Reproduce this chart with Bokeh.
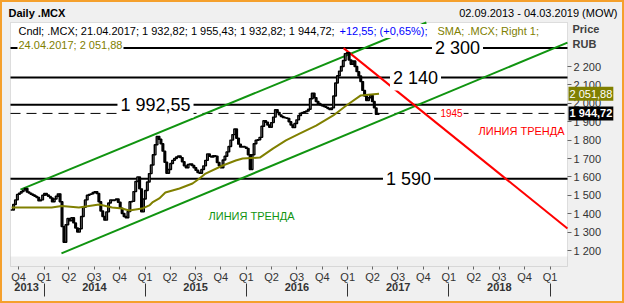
import pandas as pd
from bokeh.plotting import figure
from bokeh.models import (Range1d, LinearAxis, FixedTicker, Label,
                          ColumnDataSource, BoxAnnotation)
from bokeh.embed import file_html
from bokeh.resources import INLINE

# ---------------- data ----------------
first_week = "2013-09-06"
closes = [
    1420, 1450, 1475, 1505, 1512, 1520, 1528, 1537, 1518, 1512,
    1506, 1500, 1494, 1488, 1470, 1475, 1500, 1510, 1502, 1494,
    1485, 1465, 1480, 1495, 1508, 1465, 1330, 1245, 1340, 1374,
    1362, 1378, 1350, 1322, 1300, 1318, 1385, 1435, 1475, 1500,
    1505, 1508, 1515, 1520, 1510, 1465, 1415, 1385, 1365, 1410,
    1458, 1475, 1472, 1475, 1480, 1462, 1430, 1401, 1385, 1378,
    1412, 1465, 1467, 1520, 1575, 1600, 1535, 1410, 1480, 1526,
    1572, 1618, 1665, 1720, 1775, 1820, 1805, 1780, 1740, 1680,
    1620, 1640, 1673, 1690, 1700, 1708, 1714, 1705, 1682, 1660,
    1650, 1667, 1670, 1662, 1650, 1636, 1624, 1620, 1640, 1660,
    1690, 1725, 1712, 1708, 1715, 1712, 1678, 1660, 1650, 1692,
    1712, 1736, 1765, 1800, 1830, 1860, 1810, 1778, 1762, 1765,
    1762, 1755, 1720, 1640, 1720, 1780, 1799, 1802, 1815, 1875,
    1905, 1897, 1882, 1870, 1895, 1925, 1965, 1950, 1937, 1928,
    1923, 1921, 1918, 1900, 1882, 1868, 1890, 1910, 1934, 1946,
    1950, 1954, 1958, 1968, 2025, 2055, 2030, 2010, 1999, 1992,
    1987, 1983, 1978, 1972, 1966, 1975, 2040, 2110, 2150, 2175,
    2200, 2233, 2270, 2275, 2235, 2212, 2230, 2200, 2172, 2148,
    2118, 2070, 2040, 2015, 2030, 2042, 2010, 1975, 1940, 1944.72,
]

sma_dates = ["2013-09-06", "2013-11-17", "2014-01-29", "2014-03-06", "2014-05-07",
             "2014-07-19", "2014-09-04", "2014-10-10", "2014-11-04", "2014-12-21",
             "2015-01-16", "2015-01-27", "2015-02-21", "2015-03-15", "2015-05-05",
             "2015-06-21", "2015-07-16", "2015-08-07", "2015-10-08", "2015-11-24",
             "2015-12-19", "2016-02-19", "2016-04-06", "2016-05-23", "2016-07-13",
             "2016-09-09", "2016-11-10", "2016-12-27", "2017-02-16", "2017-04-24"]
sma_vals = [1434, 1434, 1434, 1442, 1434, 1450, 1434, 1428, 1417, 1428,
            1445, 1461, 1483, 1515, 1537, 1564, 1591, 1618, 1662, 1689,
            1700, 1705, 1754, 1798, 1836, 1879, 1934, 1988, 2042, 2051.88]

upper_dates = ["2013-10-08", "2017-10-12"]
upper_vals = [1531, 2439]
lower_dates = ["2014-03-05", "2019-03-05"]
lower_vals = [1184, 2330]
red_dates = ["2016-12-17", "2019-03-05"]
red_vals = [2300, 1320]

levels = [2300, 2140, 1992.55, 1590]
level_texts = ["2 300", "2 140", "1 992,55", "1 590"]
dash_level = 1945
dash_text = "1945"

y_ticks = [1200, 1300, 1400, 1500, 1600, 1700, 1800, 1900, 2000, 2100, 2200]
y_tick_labels = ["1 200", "1 300", "1 400", "1 500", "1 600", "1 700",
                 "1 800", "1 900", "2 000", "2 100", "2 200"]

quarter_dates = ["2013-10-01",
                 "2014-01-01", "2014-04-01", "2014-07-01", "2014-10-01",
                 "2015-01-01", "2015-04-01", "2015-07-01", "2015-10-01",
                 "2016-01-01", "2016-04-01", "2016-07-01", "2016-10-01",
                 "2017-01-01", "2017-04-01", "2017-07-01", "2017-10-01",
                 "2018-01-01", "2018-04-01", "2018-07-01", "2018-10-01",
                 "2019-01-01"]
quarter_labels = ["Q4",
                  "Q1", "Q2", "Q3", "Q4", "Q1", "Q2", "Q3", "Q4",
                  "Q1", "Q2", "Q3", "Q4", "Q1", "Q2", "Q3", "Q4",
                  "Q1", "Q2", "Q3", "Q4", "Q1"]
year_label_dates = ["2013-10-30", "2014-07-02", "2015-07-02", "2016-07-02",
                    "2017-07-02", "2018-07-02"]
year_labels = ["2013", "2014", "2015", "2016", "2017", "2018"]
year_starts = ["2014-01-01", "2015-01-01", "2016-01-01", "2017-01-01",
               "2018-01-01", "2019-01-01"]

legend_black = "Cndl; .MCX; 21.04.2017; 1 932,82; 1 955,43; 1 932,82; 1 944,72;"
legend_blue = "+12,55; (+0,65%);"
legend_olive = "SMA; .MCX; Right 1;"
legend_olive2 = "24.04.2017; 2 051,88"


# ---------------- helpers ----------------
def ms(d):
    return pd.Timestamp(d).value / 1e6


W, H = 624, 303
FL, FR, FT, FB = 10, 567, 22, 266       # plot box (pixels)
T0, T1 = ms("2014-01-01"), ms("2019-01-01")
P0, P1 = 43.5, 549.5


def X(px):
    return T0 + (px - P0) * (T1 - T0) / (P1 - P0)


def Yv(py):
    return 1200 + (250 - py) / 0.184


FONT = "Liberation Sans"
GREEN = "#109410"

p = figure(width=W, height=H, x_range=Range1d(X(0), X(W)),
           y_range=Range1d(Yv(H), Yv(0)),
           x_axis_type=None, y_axis_type=None,
           toolbar_location=None, output_backend="svg",
           min_border_left=0, min_border_right=0,
           min_border_top=0, min_border_bottom=0)
p.background_fill_color = "#f0f0f0"
p.border_fill_color = "#f0f0f0"
p.outline_line_color = "#f5a02c"
p.outline_line_width = 3

# white plot area, grey strip at its bottom, grey box outline
p.add_layout(BoxAnnotation(left=X(FL), right=X(FR), top=Yv(FT), bottom=Yv(256),
                           fill_color="white", fill_alpha=1, line_alpha=0,
                           level="underlay"))
p.add_layout(BoxAnnotation(left=X(FL), right=X(FR), top=Yv(FT), bottom=Yv(FB),
                           fill_alpha=0, line_color="#a0a0a0", line_width=1,
                           level="underlay"))

# ---------------- axes (fixed in place) ----------------
qax = LinearAxis(fixed_location=Yv(FB),
                 ticker=FixedTicker(ticks=[ms(d) for d in quarter_dates]),
                 major_label_overrides={ms(d): t for d, t in zip(quarter_dates, quarter_labels)},
                 axis_line_color=None, major_tick_in=0, major_tick_out=3,
                 major_tick_line_color="#666666", major_label_standoff=1,
                 major_label_text_font=FONT, major_label_text_font_size="11px",
                 major_label_text_color="#333333")
p.add_layout(qax, "below")

# year separators
sep_ax = LinearAxis(fixed_location=Yv(283),
                    ticker=FixedTicker(ticks=[ms(d) for d in year_starts]),
                    major_label_overrides={ms(d): "" for d in year_starts},
                    axis_line_color=None, major_tick_in=0, major_tick_out=13,
                    major_tick_line_color="#333333", major_tick_line_width=1,
                    major_label_text_font_size="1px")
p.add_layout(sep_ax, "below")

# year labels
yax = LinearAxis(fixed_location=Yv(282.5),
                 ticker=FixedTicker(ticks=[ms(d) for d in year_label_dates]),
                 major_label_overrides={ms(d): t for d, t in zip(year_label_dates, year_labels)},
                 axis_line_color=None, major_tick_in=0, major_tick_out=0,
                 major_tick_line_color=None, major_label_standoff=0,
                 major_label_text_font=FONT, major_label_text_font_size="11px",
                 major_label_text_font_style="bold",
                 major_label_text_color="#333333")
p.add_layout(yax, "below")

rax = LinearAxis(fixed_location=X(FR),
                 ticker=FixedTicker(ticks=y_ticks),
                 major_label_overrides={t: l for t, l in zip(y_ticks, y_tick_labels)},
                 axis_line_color=None, major_tick_in=0, major_tick_out=4,
                 major_tick_line_color="#666666", major_label_standoff=2,
                 major_label_text_font=FONT, major_label_text_font_size="11px",
                 major_label_text_color="#333333")
p.add_layout(rax, "right")

# ---------------- levels ----------------
for lv in levels:
    p.segment(x0=X(FL), x1=X(FR), y0=lv, y1=lv, line_color="black", line_width=2)
p.segment(x0=X(FL), x1=X(FR), y0=dash_level, y1=dash_level, line_color="black",
          line_width=1, line_dash="10 6")

# ---------------- trend lines ----------------
p.line([ms(d) for d in upper_dates], upper_vals, line_color=GREEN, line_width=2)
p.line([ms(d) for d in lower_dates], lower_vals, line_color=GREEN, line_width=2)
p.line([ms(d) for d in red_dates], red_vals, line_color="#ff0000", line_width=2)

# ---------------- candles ----------------
dates = pd.date_range(first_week, periods=len(closes), freq="7D")
opens = [closes[0]] + closes[:-1]
src = ColumnDataSource(dict(
    x=[d.value / 1e6 for d in dates],
    top=[max(o, c) for o, c in zip(opens, closes)],
    bottom=[min(o, c) for o, c in zip(opens, closes)],
    fill=["white" if c >= o else "black" for o, c in zip(opens, closes)],
))
p.vbar(x="x", top="top", bottom="bottom", width=6 * 86400000, source=src,
       fill_color="fill", line_color="black", line_width=1.4)

# ---------------- SMA ----------------
p.line([ms(d) for d in sma_dates], sma_vals, line_color="#808000", line_width=2)


# ---------------- texts ----------------
def lab(px, yv, text, size="11px", color="black", align="left", bold=False,
        bg=None, pad=0):
    kw = dict(x=X(px), y=yv, text=text, text_font=FONT, text_font_size=size,
              text_color=color, text_align=align, text_baseline="middle",
              text_font_style="bold" if bold else "normal")
    if bg is not None:
        kw.update(background_fill_color=bg, background_fill_alpha=1, padding=pad)
    p.add_layout(Label(**kw))


level_px = [457, 415, 155, 408]
for lv, t, px in zip(levels, level_texts, level_px):
    lab(px, lv, t, size="18px", align="center", bg="white", pad=3)
lab(451, dash_level, dash_text, size="10px", color="#ff0000", align="center",
    bg="white", pad=1)
lab(208, Yv(215), "ЛИНИЯ ТРЕНДА", color=GREEN)
lab(478, Yv(130), "ЛИНИЯ ТРЕНДА", color="#ff0000")

lab(17, Yv(30.5), legend_black, bg="white", pad=1)
lab(338, Yv(30.5), legend_blue, color="#0000ff", bg="white", pad=1)
lab(436, Yv(30.5), legend_olive, color="#808000", bg="white", pad=1)
lab(17, Yv(44), legend_olive2, color="#808000", bg="white", pad=1)

lab(8, Yv(12.5), "Daily .MCX", bold=True)
lab(617, Yv(12.5), "02.09.2013 - 04.03.2019 (MOW)", align="right")
lab(572, Yv(28), "Price", bold=True, color="#404040")
lab(572, Yv(43), "RUB", bold=True, color="#404040")

lab(568, sma_vals[-1], "2 051,88", color="white", bg="#808000", pad=1)
lab(568, closes[-1], "1 944,72", color="white", bold=True, bg="black", pad=1)

open("out.html", "w").write(file_html(p, INLINE))
